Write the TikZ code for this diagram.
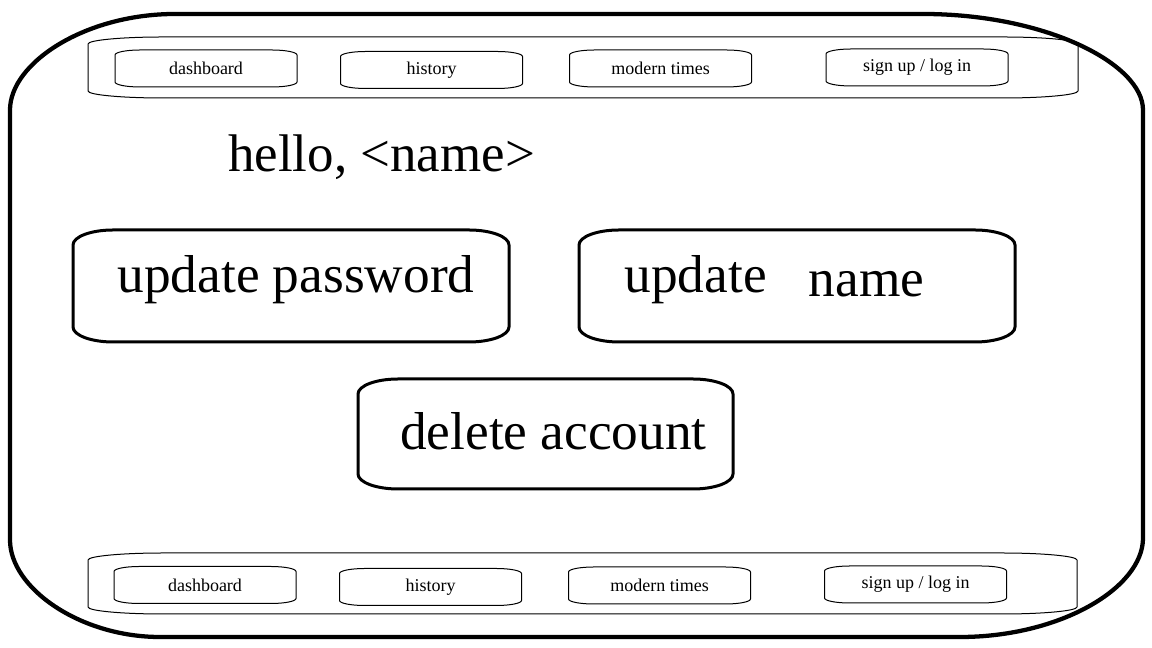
\documentclass[tikz,border=0pt]{standalone}
\usepackage{fontspec}
\setmainfont{Liberation Serif}
\usetikzlibrary{calc}

% outline with flattened (elliptic) corners round a named node
% #1 draw options, #2 node, #3 x radius, #4 y radius
\newcommand{\softbox}[4][]{%
  \draw[#1] ($(#2.north west)+(#3,0)$) -- ($(#2.north east)+(-#3,0)$)
    .. controls ($(#2.north east)+(-0.45*#3,0)$) and ($(#2.north east)+(0,-0.45*#4)$) .. ($(#2.north east)+(0,-#4)$)
    -- ($(#2.south east)+(0,#4)$)
    .. controls ($(#2.south east)+(0,0.45*#4)$) and ($(#2.south east)+(-0.45*#3,0)$) .. ($(#2.south east)+(-#3,0)$)
    -- ($(#2.south west)+(#3,0)$)
    .. controls ($(#2.south west)+(0.45*#3,0)$) and ($(#2.south west)+(0,0.45*#4)$) .. ($(#2.south west)+(0,#4)$)
    -- ($(#2.north west)+(0,-#4)$)
    .. controls ($(#2.north west)+(0,-0.45*#4)$) and ($(#2.north west)+(0.45*#3,0)$) .. ($(#2.north west)+(#3,0)$) -- cycle;}

\tikzset{
  navbar/.style={inner sep=0pt, outer sep=0pt, minimum width=742.5pt, minimum height=45.75pt},
  navbtn/.style={inner sep=0pt, outer sep=0pt, minimum width=136.5pt, minimum height=27.75pt,
    font=\fontsize{13.5}{16}\selectfont},
  bigbtn/.style={inner sep=0pt, outer sep=0pt, minimum width=327pt, minimum height=84pt,
    text height=20pt, text depth=9.5pt, font=\fontsize{40}{48}\selectfont},
}

\begin{document}
\begin{tikzpicture}[x=0.75pt,y=0.75pt]
    \useasboundingbox (0,0) rectangle (1152,648);

    %Shape: Outer frame
    \draw [line width=3.2pt] (175,634) -- (923,634)
        .. controls (1046,634) and (1143,584) .. (1143,538)
        -- (1143,110)
        .. controls (1143,60) and (1060,11) .. (960,11)
        -- (160,11)
        .. controls (80,11) and (10,60) .. (10,108)
        -- (10,538)
        .. controls (10,585) and (85,634) .. (175,634) -- cycle;

    %Shape: top navigation
    \node [navbar] (topbar) at (583,580.5) {};
    \softbox[line width=0.75pt]{topbar}{75}{7}
    \node [navbtn] (tdash) at (206,579.5) {dashboard};
    \node [navbtn] (thist) at (431.5,578) {history};
    \node [navbtn] (tmodern) at (660.5,579.5) {modern times};
    \node [navbtn] (tsign) at (917,580.5) {sign up / log in};
    \foreach \b in {tdash,thist,tmodern,tsign}
        {\softbox[line width=0.75pt]{\b}{25}{5}}

    % Text Node
    \node [anchor=base west, inner sep=0pt, font=\fontsize{39.7}{48}\selectfont] (hello) at (228,476) {hello, <name>};

    %Shape: buttons
    \node [bigbtn] (updpass) at (291,362) {\hspace*{7.5pt}update password};
    \node [bigbtn] (updname) at (797,362) {update\hspace{21.5pt} \raisebox{-3pt}{name}\hspace*{34pt}};
    \node [bigbtn, minimum width=281.25pt, minimum height=82.5pt, text height=24pt, text depth=0pt] (delacc) at (545.5,214) {\hspace*{12pt}delete account};
    \foreach \b in {updpass,updname,delacc}
        {\softbox[line width=2.25pt]{\b}{40}{15}}

    %Shape: bottom navigation
    \node [navbar, minimum width=741.75pt] (botbar) at (582.5,64.5) {};
    \softbox[line width=0.75pt]{botbar}{75}{7}
    \node [navbtn] (bdash) at (205,63) {dashboard};
    \node [navbtn] (bhist) at (430.5,61) {history};
    \node [navbtn] (bmodern) at (659.5,62.5) {modern times};
    \node [navbtn] (bsign) at (915.5,63.5) {sign up / log in};
    \foreach \b in {bdash,bhist,bmodern,bsign}
        {\softbox[line width=0.75pt]{\b}{25}{5}}

\end{tikzpicture}
\end{document}
